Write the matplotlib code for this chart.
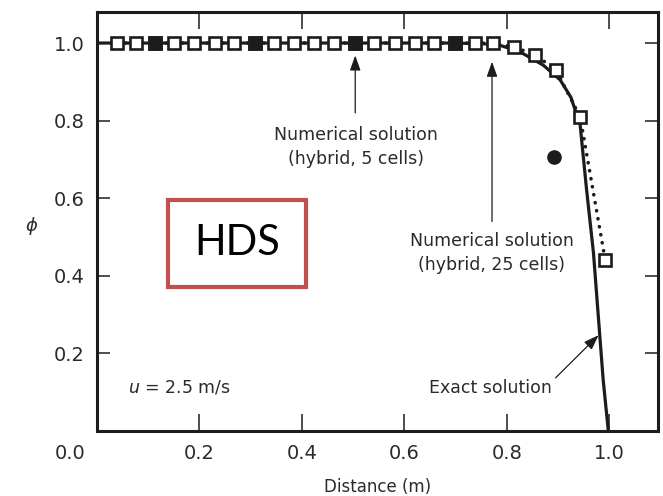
import matplotlib
matplotlib.use("Agg")
import matplotlib.pyplot as plt
from matplotlib.patches import Rectangle

# Hybrid-scheme convection-diffusion results, u = 2.5 m/s
x_25 = [0.040, 0.076, 0.113, 0.150, 0.190, 0.230, 0.268, 0.308, 0.346,
        0.385, 0.424, 0.463, 0.503, 0.541, 0.582, 0.620, 0.658, 0.698,
        0.738, 0.772, 0.813, 0.855, 0.896, 0.943, 0.992]
phi_25 = [1.0, 1.0, 1.0, 1.0, 1.0, 1.0, 1.0, 1.0, 1.0, 1.0,
          1.0, 1.0, 1.0, 1.0, 1.0, 1.0, 1.0, 1.0, 1.0, 1.0,
          0.99, 0.97, 0.93, 0.81, 0.44]

x_5 = [0.113, 0.308, 0.503, 0.698, 0.891]
phi_5 = [1.0, 1.0, 1.0, 1.0, 0.706]

x_exact = [0.0, 0.70, 0.78, 0.826, 0.871, 0.904, 0.925, 0.943, 0.955,
           0.969, 0.979, 0.988, 0.998]
phi_exact = [1.0, 1.0, 0.997, 0.977, 0.943, 0.905, 0.86, 0.789, 0.629,
             0.459, 0.286, 0.131, 0.0]

x_ticks = [0.2, 0.4, 0.6, 0.8, 1.0]
y_ticks = [0.2, 0.4, 0.6, 0.8, 1.0]
tick_labels_x = ["0.2", "0.4", "0.6", "0.8", "1.0"]
tick_labels_y = ["0.2", "0.4", "0.6", "0.8", "1.0"]
origin_label = "0.0"

ink = "#1c1c1c"
text_col = "#2a2a2a"

plt.rcParams["font.family"] = ["DejaVu Sans"]

fig = plt.figure(figsize=(6.63, 4.96), dpi=100)
ax = fig.add_axes([0.1463, 0.131, 0.8462, 0.8448])

ax.plot(x_exact, phi_exact, color=ink, lw=2.3, zorder=2,
        solid_joinstyle="round")
ax.plot(x_25, phi_25, color=ink, lw=2.6, ls=(0, (0.05, 2.2)),
        dash_capstyle="round", zorder=3)
ax.plot(x_25, phi_25, ls="none", marker="s", ms=8.6, mew=1.9,
        mfc="white", mec=ink, zorder=4)
ax.plot(x_5[:4], phi_5[:4], ls="none", marker="s", ms=8.6, mew=1.9,
        mfc=ink, mec=ink, zorder=5)
ax.plot(x_5[4:], phi_5[4:], ls="none", marker="o", ms=9.5,
        mfc=ink, mec=ink, zorder=5)

ax.set_xlim(0.0, 1.095)
ax.set_ylim(0.0, 1.08)
ax.set_xticks(x_ticks)
ax.set_xticklabels(tick_labels_x)
ax.set_yticks(y_ticks)
ax.set_yticklabels(tick_labels_y)

for s in ax.spines.values():
    s.set_linewidth(2.2)
    s.set_color(ink)

ax.tick_params(axis="x", which="both", direction="in", length=12,
               width=1.1, top=True, bottom=True, pad=9,
               labelsize=14, labelcolor=text_col, color=ink)
ax.tick_params(axis="y", which="both", direction="in", length=9.5,
               width=1.1, left=True, right=True, pad=9,
               labelsize=14, labelcolor=text_col, color=ink)

# Shared origin label at the lower-left corner
ax.annotate(origin_label, xy=(0, 0), xycoords="axes fraction",
            xytext=(-8.5, -9.4), textcoords="offset points",
            ha="right", va="top", fontsize=14, color=text_col)

ax.set_xlabel("Distance (m)", fontsize=12, color=text_col, labelpad=11)
ax.set_ylabel(r"$\phi$", fontsize=13, color=text_col, rotation=0,
              va="center", ha="center")
ax.yaxis.set_label_coords(-0.116, 0.49)

arrow_kw = dict(arrowstyle="-|>,head_length=0.7,head_width=0.25",
                color=ink, lw=0.9, mutation_scale=13, shrinkA=0, shrinkB=0)
ann_fs = 12.5

ax.text(0.506, 0.732, "Numerical solution\n(hybrid, 5 cells)",
        ha="center", va="center", fontsize=ann_fs, color=text_col,
        linespacing=1.45)
ax.annotate("", xy=(0.504, 0.968), xytext=(0.504, 0.82),
            arrowprops=arrow_kw)

ax.text(0.77, 0.459, "Numerical solution\n(hybrid, 25 cells)",
        ha="center", va="center", fontsize=ann_fs, color=text_col,
        linespacing=1.45)
ax.annotate("", xy=(0.771, 0.952), xytext=(0.771, 0.54),
            arrowprops=arrow_kw)

ax.text(0.768, 0.111, "Exact solution", ha="center", va="center",
        fontsize=ann_fs, color=text_col)
ax.annotate("", xy=(0.979, 0.247), xytext=(0.895, 0.137),
            arrowprops=arrow_kw)

ax.text(0.06, 0.111, r"$u$ = 2.5 m/s", ha="left", va="center",
        fontsize=ann_fs, color=text_col)

# Label box
fig.patches.append(Rectangle((0.2534, 0.4214), 0.208, 0.1754,
                             transform=fig.transFigure, facecolor="white",
                             edgecolor="#C0504D", linewidth=3.0,
                             zorder=10))
fig.text(0.3575, 0.5101, "HDS", ha="center", va="center", fontsize=30,
         family=["Lato", "DejaVu Sans"], color="black", zorder=11)

fig.savefig("out.png", dpi=100)
